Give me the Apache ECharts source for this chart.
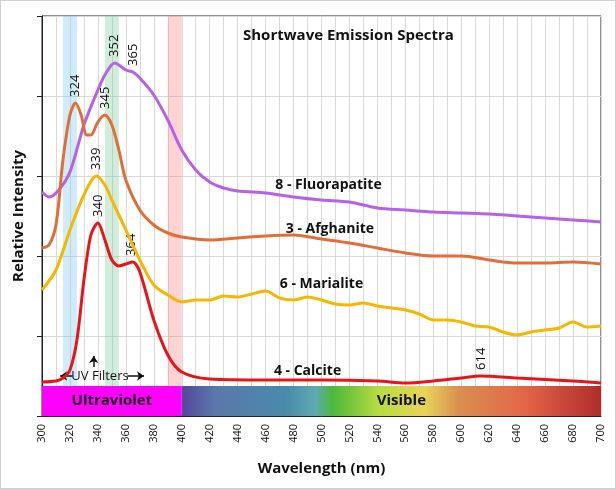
<!DOCTYPE html>
<html>
<head>
<meta charset="UTF-8">
<script src="https://cdn.jsdelivr.net/npm/echarts@6/dist/echarts.min.js"></script>
<style>
  html, body { margin: 0; padding: 0; background: #fff; }
  #main { width: 614px; height: 487px; border: 1px solid #d0d0d0; }
</style>
</head>
<body>
<div id="main"></div>
<script>
// wavelength / intensity pairs (intensity in arbitrary units, 0-400)
var fluorapatite = [[300,224],[305,219],[312,226],[320,244],[330,291],[340,326],[345,341],[352,353],[360,346],[365,344],[370,338],[380,321],[390,296],[400,266],[410,246],[420,234],[430,228],[440,225],[460,223],[480,219],[500,216],[520,214],[540,208],[560,206],[580,204],[600,203],[620,202],[640,200],[660,198],[680,196],[700,194]];
var afghanite = [[300,168],[305,171],[310,191],[315,256],[320,301],[324,313],[328,301],[332,281],[335,281],[340,294],[345,301],[350,291],[355,266],[360,236],[370,206],[380,191],[390,183],[400,179],[420,176],[440,178],[460,180],[480,181],[500,177],[520,173],[540,168],[560,163],[580,160],[600,160],[620,156],[640,153],[660,153],[680,154],[700,152]];
var marialite = [[300,126],[310,146],[320,186],[330,221],[339,240],[345,231],[350,216],[360,186],[370,156],[380,131],[390,121],[400,114],[410,116],[420,116],[430,120],[440,119],[450,122],[460,125],[470,118],[480,116],[490,119],[500,116],[510,112],[520,111],[530,113],[540,110],[550,108],[560,106],[570,102],[580,96],[590,96],[600,94],[610,90],[620,89],[630,84],[640,81],[650,84],[660,86],[670,88],[680,94],[690,89],[700,90]];
var calcite = [[300,34],[310,35],[315,38],[320,46],[325,76],[330,136],[335,181],[340,193],[345,176],[350,156],[355,150],[360,152],[365,154],[370,144],[380,96],[390,61],[400,44],[420,37],[460,36],[500,36],[540,35],[560,33],[580,35],[600,38],[614,40],[640,38],[680,35],[700,33]];

var seriesNames = ['8 - Fluorapatite', '3 - Afghanite', '6 - Marialite', '4 - Calcite'];
var seriesColors = ['#b662e8', '#e06e38', '#f5b700', '#e8141a'];
var nameSpots = [[505,231],[506,187],[500,132],[490,45]];
var peakLabels = [
  [[324,313],[352,353],[365,344]],
  [[345,301]],
  [[339,240]],
  [[340,193],[364,154],[614,40]]
];
var filterBands = [[315,325,'rgba(120,200,240,0.35)'],[345,355,'rgba(120,200,150,0.35)'],[390,400,'rgba(250,130,130,0.35)']];

var myChart = echarts.init(document.getElementById('main'));

function peakMarks(list, idx) {
    var d = list.map(function (p) {
        return {coord: p, value: p[0], label: {show: true, rotate: 90, position: 'top', distance: 6, align: 'left', verticalAlign: 'middle', formatter: String(p[0]), color: '#111', fontSize: 13, fontFamily: 'Open Sans'}};
    });
    d.push({coord: nameSpots[idx], label: {show: true, position: 'inside', formatter: seriesNames[idx], color: '#111', fontSize: 14, fontWeight: 'bold', fontFamily: 'Open Sans'}});
    return {symbol: 'circle', symbolSize: 0.1, silent: true, data: d};
}

var series = [fluorapatite, afghanite, marialite, calcite].map(function (data, i) {
    return {
        name: seriesNames[i], type: 'line', data: data, smooth: 0.3, showSymbol: false, z: 5,
        lineStyle: {color: seriesColors[i], width: 3},
        markPoint: peakMarks(peakLabels[i], i)
    };
});

// bands, bottom colour bar and UV filter arrows
series.push({
    type: 'line', data: [], z: 1,
    markArea: {
        silent: true,
        data: filterBands.map(function (b) {
            return [{xAxis: b[0], yAxis: 30, itemStyle: {color: b[2]}}, {xAxis: b[1], yAxis: 400}];
        }).concat([
            [{xAxis: 300, yAxis: 0, itemStyle: {color: '#ff00ff'}, label: {show: true, position: 'inside', formatter: 'Ultraviolet', color: '#111', fontSize: 15, fontWeight: 'bold', fontFamily: 'Open Sans'}}, {xAxis: 400, yAxis: 30}],
            [{xAxis: 400, yAxis: 0, itemStyle: {color: new echarts.graphic.LinearGradient(0, 0, 1, 0, [
                {offset: 0, color: '#54489a'}, {offset: 0.08, color: '#5a78aa'}, {offset: 0.25, color: '#4a8aab'},
                {offset: 0.32, color: '#60aab0'}, {offset: 0.36, color: '#4cb83a'}, {offset: 0.47, color: '#b8dc40'},
                {offset: 0.58, color: '#e8d458'}, {offset: 0.66, color: '#d89050'}, {offset: 0.82, color: '#e46448'},
                {offset: 1, color: '#b02c2c'}])},
              label: {show: true, position: 'inside', offset: [10, 0], formatter: 'Visible', color: '#111', fontSize: 15, fontWeight: 'bold', fontFamily: 'Open Sans'}}, {xAxis: 700, yAxis: 30}]
        ])
    },
    markLine: {
        silent: true, symbol: ['none', 'arrow'], symbolSize: 7,
        lineStyle: {color: '#111', width: 1.5, type: 'solid'}, label: {show: false},
        data: [
            [{coord: [322, 40]}, {coord: [313, 40]}],
            [{coord: [361, 40]}, {coord: [373, 40]}],
            [{coord: [337, 49]}, {coord: [337, 60]}]
        ]
    },
    markPoint: {
        symbol: 'circle', symbolSize: 0.1, silent: true,
        data: [{coord: [341.5, 40], label: {show: true, position: 'inside', formatter: 'UV Filters', color: '#111', fontSize: 13, fontFamily: 'Open Sans'}}]
    }
});

option = {
    backgroundColor: '#fff',
    animation: false,
    title: {
        text: 'Shortwave Emission Spectra', left: 237, top: 22,
        textStyle: {fontSize: 15, fontWeight: 'bold', color: '#111', fontFamily: 'Open Sans'}
    },
    grid: {left: 41, right: 14, top: 15, bottom: 72, show: true, borderColor: '#222', borderWidth: 1},
    xAxis: {
        type: 'value', min: 300, max: 700, interval: 10,
        name: 'Wavelength (nm)', nameLocation: 'middle', nameGap: 45,
        nameTextStyle: {fontSize: 15, fontWeight: 'bold', color: '#111', fontFamily: 'Open Sans'},
        axisLine: {lineStyle: {color: '#222'}},
        axisTick: {show: false},
        axisLabel: {
            rotate: 90, fontSize: 11, color: '#111', fontFamily: 'Open Sans',
            formatter: function (v) { return v % 20 === 0 ? String(v) : ''; }
        },
        splitLine: {show: true, lineStyle: {color: '#d9d9d9'}}
    },
    yAxis: {
        type: 'value', min: 0, max: 400, interval: 80,
        name: 'Relative Intensity', nameLocation: 'middle', nameGap: 16,
        nameTextStyle: {fontSize: 15, fontWeight: 'bold', color: '#111', fontFamily: 'Open Sans'},
        axisLine: {show: true, lineStyle: {color: '#222'}},
        axisTick: {show: true, inside: false, length: 5, lineStyle: {color: '#222'}},
        axisLabel: {show: false},
        splitLine: {show: true, lineStyle: {color: '#d9d9d9'}}
    },
    series: series
};

myChart.setOption(option);
</script>
</body>
</html>
